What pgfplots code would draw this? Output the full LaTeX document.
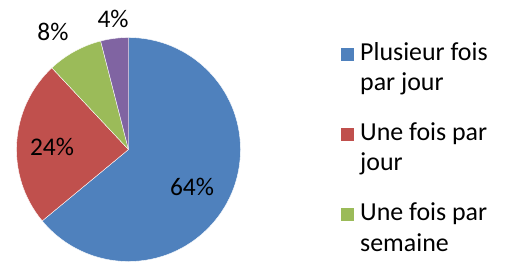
\documentclass[border=0pt]{standalone}
\usepackage{fontspec}
\setmainfont{Carlito}
\usepackage{pgfplots}
\usepackage{pgfplotstable}
\pgfplotsset{compat=1.18}
\definecolor{pblue}{HTML}{4F81BD}
\definecolor{pred}{HTML}{C0504D}
\definecolor{pgreen}{HTML}{9BBB59}
\definecolor{ppurple}{HTML}{8064A2}
\pgfplotstableread{
value color lx ly
64 pblue 0.567 -0.335
24 pred -0.683 0.022
8 pgreen -0.674 1.049
4 ppurple -0.138 1.165
}\piedata
\begin{document}
\begin{tikzpicture}[font=\fontsize{25.5}{30}\selectfont]
\begin{axis}[
  at={(16.5bp,0.5bp)}, anchor=south west,
  scale only axis, width=224bp, height=224bp,
  xmin=-1, xmax=1, ymin=-1, ymax=1,
  hide axis, clip=false]
\pgfmathsetmacro\cum{0}
\pgfplotsforeachungrouped \i in {0,...,3}{
  \pgfplotstablegetelem{\i}{value}\of\piedata \let\v\pgfplotsretval
  \pgfplotstablegetelem{\i}{color}\of\piedata \let\c\pgfplotsretval
  \pgfplotstablegetelem{\i}{lx}\of\piedata \let\lx\pgfplotsretval
  \pgfplotstablegetelem{\i}{ly}\of\piedata \let\ly\pgfplotsretval
  \pgfmathsetmacro\a{90-3.6*\cum}
  \pgfmathsetmacro\b{90-3.6*(\cum+\v)}
  \pgfmathsetmacro\ca{cos(\a)}
  \pgfmathsetmacro\sa{sin(\a)}
  \edef\temp{\noexpand\fill[\c, draw=white, line width=0.4pt, line join=round] (axis cs:0,0) -- (axis cs:\ca,\sa) arc[start angle=\a, end angle=\b, radius=112bp] -- cycle;}
  \temp
  \pgfmathsetmacro\cum{\cum+\v}
}
\pgfplotsforeachungrouped \i in {0,...,3}{
  \pgfplotstablegetelem{\i}{value}\of\piedata \let\v\pgfplotsretval
  \pgfplotstablegetelem{\i}{lx}\of\piedata \let\lx\pgfplotsretval
  \pgfplotstablegetelem{\i}{ly}\of\piedata \let\ly\pgfplotsretval
  \edef\temp{\noexpand\node[text=black, inner sep=0pt] at (axis cs:\lx,\ly) {\v\noexpand\%};}
  \temp
}
\end{axis}
\begin{scope}[font=\fontsize{26}{30}\selectfont]
\fill[pblue] (341bp,201bp) rectangle ++(13bp,13bp);
\node[anchor=base west, inner sep=0pt] at (360bp,201bp) {Plusieur fois};
\node[anchor=base west, inner sep=0pt] at (360bp,171bp) {par jour};
\fill[pred] (341bp,121bp) rectangle ++(13bp,13bp);
\node[anchor=base west, inner sep=0pt] at (360bp,121bp) {Une fois par};
\node[anchor=base west, inner sep=0pt] at (360bp,91bp) {jour};
\fill[pgreen] (341bp,41bp) rectangle ++(13bp,13bp);
\node[anchor=base west, inner sep=0pt] at (360bp,41bp) {Une fois par};
\node[anchor=base west, inner sep=0pt] at (360bp,11bp) {semaine};
\end{scope}
\pgfresetboundingbox
\path[use as bounding box] (0,0) rectangle (510bp,262bp);
\end{tikzpicture}
\end{document}
